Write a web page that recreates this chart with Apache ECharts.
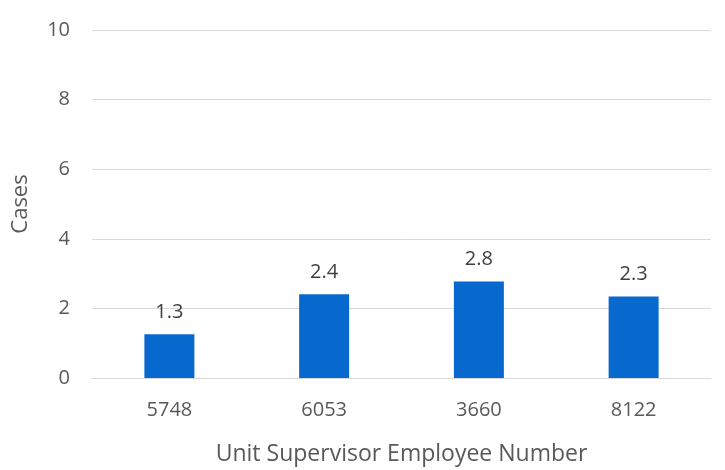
<!DOCTYPE html>
<html>
<head>
<meta charset="utf-8">
<script src="https://cdn.jsdelivr.net/npm/echarts@6/dist/echarts.min.js"></script>
<style>
  html, body { margin: 0; padding: 0; background: #fff; }
  #chart { width: 725px; height: 470px; }
</style>
</head>
<body>
<div id="chart"></div>
<script>
const categories = ['5748', '6053', '3660', '8122']
const cases = [1.26, 2.41, 2.77, 2.34]
const yTicks = [0, 2, 4, 6, 8, 10]

const textColor = '#595959'
const font = 'Open Sans'

const chart = echarts.init(document.getElementById('chart'))
chart.setOption({
  animation: false,
  grid: {
    left: 92,
    right: 14,
    top: 30,
    bottom: 92,
    outerBoundsMode: 'none',
  },
  xAxis: {
    type: 'category',
    data: categories,
    name: 'Unit Supervisor Employee Number',
    nameLocation: 'middle',
    nameGap: 65,
    nameTextStyle: { color: textColor, fontFamily: font, fontSize: 23 },
    axisTick: { show: false },
    axisLine: { lineStyle: { color: '#d9d9d9', width: 1 } },
    axisLabel: { color: textColor, fontFamily: font, fontSize: 20, margin: 22 },
  },
  yAxis: {
    type: 'value',
    min: yTicks[0],
    max: yTicks[yTicks.length - 1],
    interval: 2,
    name: 'Cases',
    nameLocation: 'middle',
    nameGap: 60,
    nameTextStyle: { color: textColor, fontFamily: font, fontSize: 22 },
    axisLabel: { color: textColor, fontFamily: font, fontSize: 20, margin: 22 },
    splitLine: { lineStyle: { color: '#d9d9d9', width: 1 } },
  },
  series: [
    {
      type: 'bar',
      data: cases,
      barWidth: 50,
      itemStyle: { color: '#0769CE' },
      label: {
        show: true,
        position: 'top',
        distance: 12,
        color: '#404040',
        fontFamily: font,
        fontSize: 20,
        formatter: (p) => p.value.toFixed(1),
      },
    },
  ],
})
</script>
</body>
</html>
